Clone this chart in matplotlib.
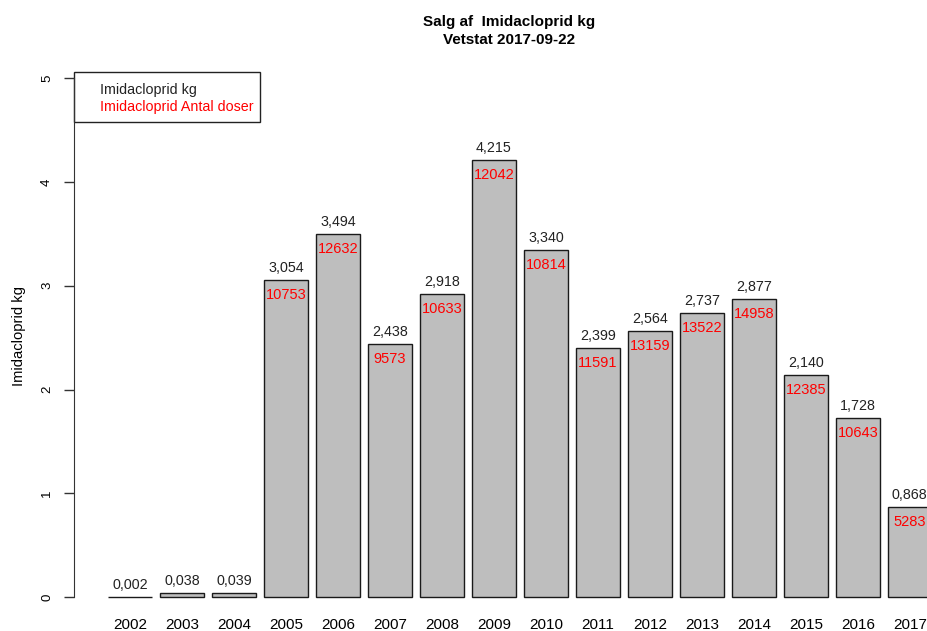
import matplotlib.pyplot as plt

# data
years = ['2002', '2003', '2004', '2005', '2006', '2007', '2008', '2009',
         '2010', '2011', '2012', '2013', '2014', '2015', '2016', '2017']
kg = [0.002, 0.038, 0.039, 3.054, 3.494, 2.438, 2.918, 4.215,
      3.340, 2.399, 2.564, 2.737, 2.877, 2.140, 1.728, 0.868]
doses = ['', '', '', '10753', '12632', '9573', '10633', '12042',
         '10814', '11591', '13159', '13522', '14958', '12385', '10643', '5283']

plt.rcParams['font.family'] = ['Liberation Sans', 'DejaVu Sans']

fig = plt.figure(figsize=(9.28, 6.31), dpi=100)
ax = fig.add_axes([74 / 928, 1 - 612.6 / 631, 1 - 74 / 928, (612.6 - 72) / 631])

x = list(range(len(years)))
ax.bar(x, kg, width=0.846, color='#bebebe', edgecolor='#1a1a1a', linewidth=1)
ax.set_xlim(-1.077, 15.35)
ax.set_ylim(-0.15, 5.06)

# value labels above the bars, dose counts just inside the top
for xi, v, d in zip(x, kg, doses):
    label = f'{v:.3f}'.replace('.', ',')
    ax.annotate(label, (xi, v), xytext=(0, 12), textcoords='offset pixels',
                ha='center', va='center', fontsize=10.3, color='#222222')
    if d:
        ax.annotate(d, (xi, v), xytext=(0, -15), textcoords='offset pixels',
                    ha='center', va='center', fontsize=10.5, color='red')

# R style axes: only the y axis, spanning 0..5
for s in ['top', 'right', 'bottom']:
    ax.spines[s].set_visible(False)
ax.spines['left'].set_bounds(0, 5)
ax.spines['left'].set_color('#333333')
ax.set_yticks([0, 1, 2, 3, 4, 5])
ax.set_yticklabels(['0', '1', '2', '3', '4', '5'], rotation=90, va='center', fontsize=9.5)
ax.tick_params(axis='y', length=7, width=1, color='#333333', pad=8)
ax.set_xticks(x)
ax.set_xticklabels(years, fontsize=11)
ax.tick_params(axis='x', length=0, pad=4)
ax.set_ylabel('Imidacloprid kg', fontsize=10.6)
ax.yaxis.set_label_coords(-48 / 854, (612.6 - 336) / 540.6)

# legend box at the top-left corner of the plot region
ax.add_patch(plt.Rectangle((0, 1 - 50 / 540.6), 186 / 854, 50 / 540.6,
                           transform=ax.transAxes, fill=False,
                           edgecolor='#222222', linewidth=1, clip_on=False))
ax.text(26 / 854, (612.6 - 90) / 540.6, 'Imidacloprid kg', transform=ax.transAxes,
        ha='left', va='center', fontsize=10.3, color='#222222')
ax.text(26 / 854, (612.6 - 107) / 540.6, 'Imidacloprid Antal doser', transform=ax.transAxes,
        ha='left', va='center', fontsize=10.3, color='red')

fig.text(509 / 928, 1 - 22 / 631, 'Salg af  Imidacloprid kg',
         ha='center', va='center', fontsize=11, fontweight='bold')
fig.text(509 / 928, 1 - 40 / 631, 'Vetstat 2017-09-22',
         ha='center', va='center', fontsize=11, fontweight='bold')

fig.savefig('out.png', dpi=100)
